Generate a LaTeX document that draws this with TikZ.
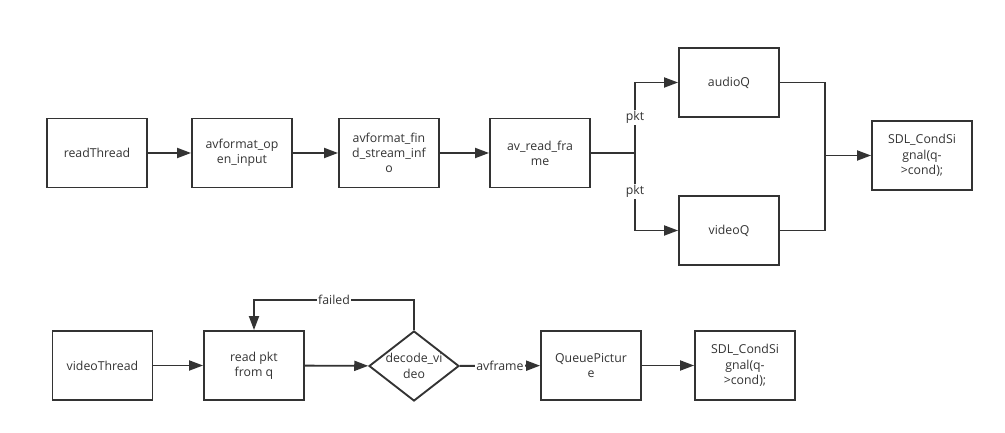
\documentclass[tikz,border=0pt]{standalone}
\usepackage{xcolor}
\usepackage{fontspec}
\setmainfont{Open Sans}
\usepackage{tikz}
\usetikzlibrary{shapes.geometric,arrows.meta}
\definecolor{linegray}{RGB}{51,51,51}

\begin{document}
\begin{tikzpicture}[x=0.03cm,y=-0.03cm,
    font=\fontsize{10.5}{13}\selectfont,
    box/.style={draw=linegray,line width=1.6pt,rectangle,minimum width=3cm,minimum height=2.07cm,align=center,inner sep=2pt,text=linegray},
    decide/.style={draw=linegray,line width=1.6pt,diamond,minimum width=2.7cm,minimum height=2.1cm,inner sep=0pt,align=center,text=linegray},
    flow/.style={draw=linegray,line width=1.6pt,-{Triangle[length=0.42cm,width=0.3cm]}},
    plain/.style={draw=linegray,line width=1.6pt},
    tag/.style={fill=white,inner sep=1pt,text=linegray}]
    \useasboundingbox (0,0) rectangle (1005,433);

    % first row
    \node[box] (readThread) at (97,153) {readThread};
    \node[box] (openInput) at (242,153) {avformat\_op\\en\_input};
    \node[box] (findInfo) at (389,153) {avformat\_fin\\d\_stream\_inf\\o};
    \node[box] (readFrame) at (540,153) {av\_read\_fra\\me};
    \node[box] (audioQ) at (729,82.5) {audioQ};
    \node[box] (videoQ) at (729,230.5) {videoQ};
    \node[box] (signalTop) at (922,155.5) {SDL\_CondSi\\gnal(q-\\>cond);};
    \coordinate (split) at (635,153);
    \coordinate (join) at (825,155.5);

    \draw[flow] (readThread) -- (openInput);
    \draw[flow] (openInput) -- (findInfo);
    \draw[flow] (findInfo) -- (readFrame);
    \draw[plain] (readFrame) -- (split);
    \draw[flow] (split) |- node[tag,pos=0.25] {pkt} (audioQ);
    \draw[flow] (split) |- node[tag,pos=0.25] {pkt} (videoQ);
    \draw[plain] (audioQ) -| (join);
    \draw[plain] (videoQ) -| (join);
    \draw[flow] (join) -- (signalTop);

    % second row
    \node[box] (videoThread) at (102.5,365.5) {videoThread};
    \node[box] (readPkt) at (254,365.5) {read pkt\\from q};
    \node[decide] (decodeVideo) at (414,366) {\makebox[0pt]{decode\_vi}\\\makebox[0pt]{deo}};
    \node[box] (queuePic) at (591,365.5) {QueuePictur\\e};
    \node[box] (signalBottom) at (745,365.5) {SDL\_CondSi\\gnal(q-\\>cond);};

    \draw[flow] (videoThread) -- (readPkt);
    \draw[flow] (readPkt) -- (decodeVideo);
    \draw[flow] (decodeVideo.north) -- ++(0,-30) -| node[tag,pos=0.25] {failed} (readPkt.north);
    \draw[flow] (decodeVideo) -- node[tag] {avframe} (queuePic);
    \draw[flow] (queuePic) -- (signalBottom);
\end{tikzpicture}
\end{document}
